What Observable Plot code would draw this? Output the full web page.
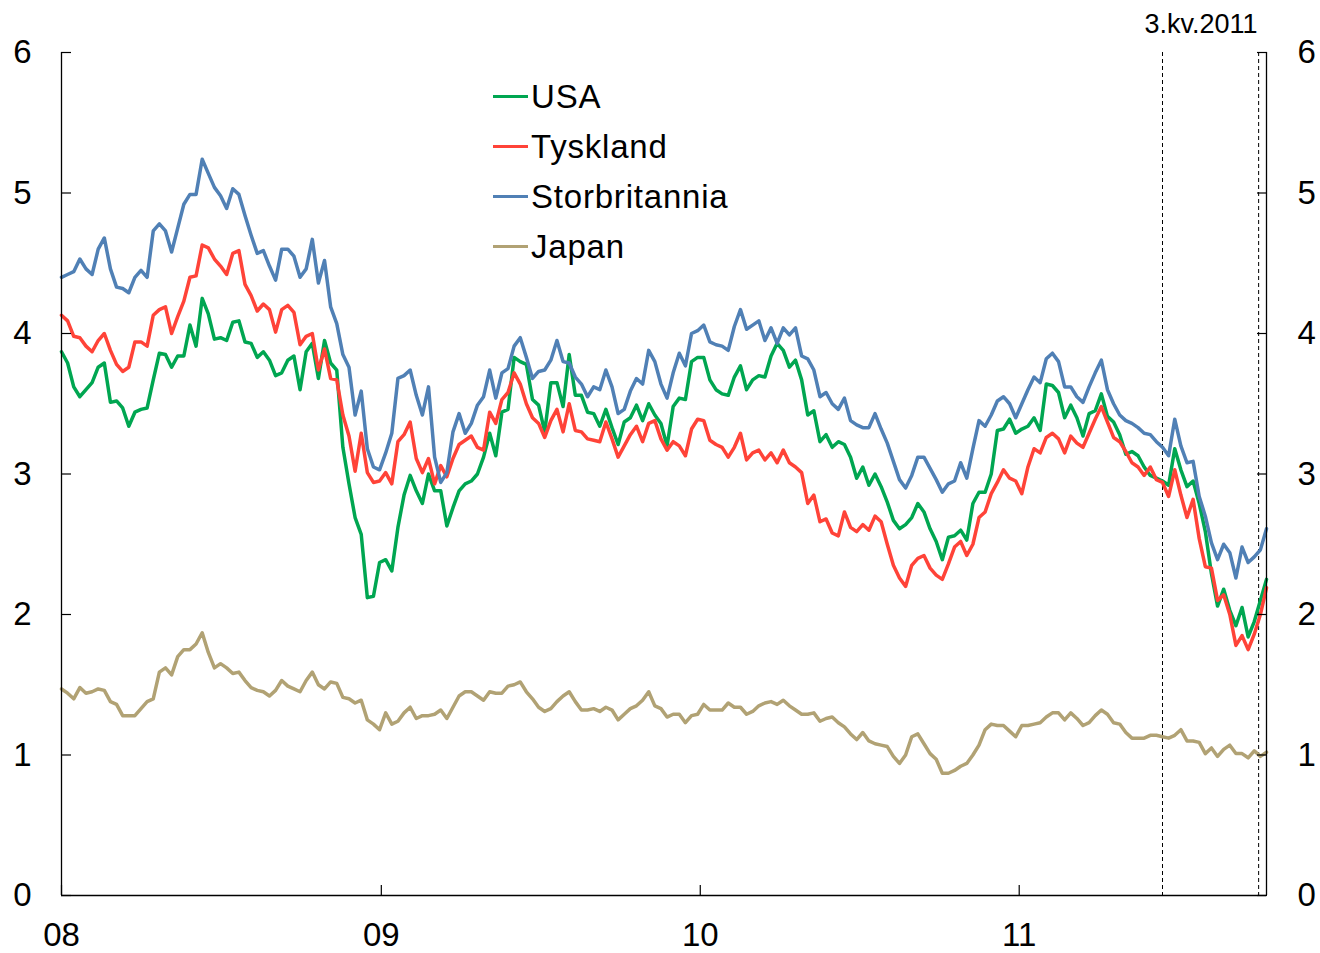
<!DOCTYPE html>
<html>
<head>
<meta charset="utf-8">
<script src="https://cdn.jsdelivr.net/npm/d3@7"></script>
<script src="https://cdn.jsdelivr.net/npm/@observablehq/plot@0.6"></script>
<style>
  html, body { margin: 0; padding: 0; background: #fff; }
  body { font-family: "Liberation Sans", Arial, sans-serif; }
  #wrap { position: relative; width: 1320px; height: 953px; }
  #legend { position: absolute; left: 493px; top: 71px; }
  .row { display: flex; align-items: center; height: 50px; }
  .swatch { display: inline-block; width: 35px; height: 3px; }
  .lab { font-size: 33px; line-height: 33px; color: #000; margin-left: 3px; letter-spacing: 0.8px; }
</style>
</head>
<body>
<div id="wrap"><div id="chart"></div><div id="legend"></div></div>
<script>
// ---- Data (weekly observations, first week starting 2008-01-01) ----
const startDate = "2008-01-01";
const stepDays = 7;

const usa = [
  3.87,3.79,3.62,3.55,3.60,3.65,3.76,3.79,3.51,3.52,3.47,3.34,3.44,3.46,3.47,3.67,3.86,3.85,3.76,3.84,
  3.84,4.06,3.91,4.25,4.14,3.96,3.97,3.95,4.08,4.09,3.94,3.93,3.83,3.87,3.81,3.70,3.72,3.81,3.84,3.60,
  3.87,3.93,3.68,3.95,3.79,3.74,3.19,2.93,2.69,2.57,2.12,2.13,2.37,2.39,
  2.31,2.62,2.85,2.99,2.88,2.79,3.00,2.88,2.88,2.63,2.76,2.88,2.93,2.95,3.00,3.12,3.29,3.13,3.44,3.46,
  3.83,3.80,3.78,3.53,3.49,3.30,3.65,3.65,3.48,3.85,3.56,3.56,3.44,3.43,3.34,3.46,3.33,3.21,3.37,3.40,
  3.49,3.38,3.50,3.42,3.36,3.20,3.48,3.54,3.53,3.80,3.83,3.83,3.67,
  3.60,3.57,3.56,3.69,3.77,3.60,3.67,3.70,3.69,3.84,3.93,3.88,3.76,3.81,3.67,3.42,3.45,3.23,3.28,3.19,
  3.23,3.21,3.12,2.97,3.05,2.92,3.00,2.91,2.80,2.67,2.61,2.64,2.69,2.79,2.73,2.61,2.52,2.39,2.55,2.56,
  2.60,2.53,2.79,2.87,2.87,3.00,3.31,3.32,3.39,3.29,3.32,3.34,
  3.40,3.31,3.64,3.63,3.58,3.40,3.49,3.40,3.27,3.43,3.45,3.57,3.41,3.37,3.28,3.14,3.16,3.13,3.05,2.99,
  2.97,2.95,2.92,3.18,3.03,2.91,2.95,2.79,2.59,2.29,2.06,2.18,2.03,1.92,2.05,1.84,1.95,2.10,2.25
];

const tyskland = [
  4.13,4.09,3.98,3.97,3.91,3.87,3.95,4.00,3.88,3.78,3.73,3.76,3.94,3.94,3.91,4.13,4.17,4.19,4.00,4.12,
  4.23,4.40,4.41,4.63,4.61,4.53,4.48,4.42,4.57,4.59,4.35,4.27,4.16,4.21,4.17,4.01,4.17,4.20,4.15,3.92,
  3.98,4.00,3.74,3.89,3.68,3.67,3.42,3.27,3.02,3.29,3.01,2.94,2.95,3.01,
  2.93,3.23,3.28,3.37,3.11,3.01,3.11,2.93,3.06,2.98,3.11,3.21,3.24,3.27,3.19,3.17,3.44,3.36,3.53,3.58,
  3.72,3.64,3.50,3.40,3.36,3.26,3.38,3.46,3.30,3.50,3.31,3.30,3.25,3.24,3.23,3.37,3.25,3.12,3.20,3.28,
  3.34,3.23,3.36,3.38,3.25,3.17,3.23,3.20,3.13,3.32,3.39,3.38,3.24,
  3.21,3.19,3.12,3.19,3.29,3.10,3.15,3.17,3.10,3.15,3.08,3.17,3.08,3.05,3.01,2.79,2.85,2.66,2.68,2.58,
  2.56,2.73,2.62,2.59,2.64,2.60,2.70,2.66,2.50,2.35,2.26,2.20,2.35,2.40,2.42,2.33,2.28,2.25,2.36,2.48,
  2.52,2.42,2.50,2.69,2.73,2.86,2.94,3.03,2.97,2.95,2.86,3.05,
  3.18,3.15,3.26,3.29,3.25,3.15,3.27,3.22,3.19,3.29,3.39,3.48,3.37,3.26,3.23,3.16,3.08,3.05,2.99,3.05,
  2.96,2.94,2.84,3.03,2.85,2.69,2.82,2.54,2.34,2.33,2.10,2.14,2.00,1.78,1.85,1.75,1.86,2.00,2.19
];

const storbritannia = [
  4.40,4.42,4.44,4.53,4.46,4.42,4.60,4.68,4.46,4.33,4.32,4.29,4.40,4.45,4.40,4.73,4.78,4.73,4.58,4.75,
  4.92,4.99,4.99,5.24,5.14,5.04,4.98,4.89,5.03,4.99,4.84,4.70,4.57,4.59,4.48,4.38,4.60,4.60,4.55,4.40,
  4.46,4.67,4.36,4.52,4.19,4.07,3.85,3.76,3.42,3.59,3.18,3.05,3.03,3.15,
  3.29,3.68,3.70,3.74,3.56,3.42,3.62,3.12,2.94,3.01,3.30,3.43,3.29,3.36,3.49,3.55,3.74,3.54,3.72,3.75,
  3.91,3.97,3.83,3.68,3.73,3.74,3.81,3.95,3.80,3.79,3.69,3.64,3.55,3.62,3.60,3.74,3.62,3.43,3.46,3.59,
  3.68,3.64,3.88,3.80,3.64,3.54,3.72,3.86,3.77,4.00,4.02,4.06,3.94,
  3.92,3.91,3.88,4.05,4.17,4.03,4.06,4.09,3.95,4.04,3.93,4.04,3.99,4.04,3.84,3.82,3.74,3.55,3.58,3.50,
  3.46,3.54,3.38,3.35,3.33,3.33,3.43,3.32,3.22,3.09,2.96,2.90,2.99,3.12,3.12,3.04,2.96,2.87,2.93,2.95,
  3.08,2.97,3.18,3.38,3.34,3.42,3.52,3.55,3.50,3.40,3.50,3.60,
  3.69,3.65,3.82,3.86,3.80,3.62,3.62,3.55,3.51,3.62,3.72,3.81,3.60,3.50,3.42,3.38,3.36,3.33,3.29,3.28,
  3.23,3.19,3.13,3.39,3.20,3.08,3.09,2.84,2.70,2.51,2.39,2.50,2.44,2.26,2.48,2.37,2.41,2.46,2.61
];

const japan = [
  1.47,1.44,1.40,1.48,1.44,1.45,1.47,1.46,1.38,1.36,1.28,1.28,1.28,1.33,1.38,1.40,1.59,1.62,1.57,1.70,
  1.75,1.75,1.79,1.87,1.73,1.62,1.65,1.62,1.58,1.59,1.53,1.48,1.46,1.45,1.42,1.46,1.53,1.49,1.47,1.45,
  1.53,1.59,1.50,1.47,1.52,1.51,1.41,1.40,1.37,1.39,1.25,1.22,1.18,1.30,1.22,1.24,1.30,1.34,1.26,1.28,
  1.28,1.29,1.32,1.26,1.34,1.42,1.45,1.45,1.42,1.39,1.45,1.44,1.44,1.49,1.50,1.52,1.45,1.40,1.34,1.31,
  1.33,1.38,1.42,1.45,1.38,1.32,1.32,1.33,1.31,1.34,1.32,1.25,1.29,1.33,1.35,1.39,1.45,1.35,1.33,1.27,
  1.29,1.29,1.23,1.28,1.29,1.36,1.32,1.32,1.32,1.37,1.34,1.34,1.29,1.31,1.35,1.37,1.38,1.36,1.39,1.35,
  1.32,1.29,1.29,1.30,1.24,1.26,1.27,1.23,1.20,1.15,1.11,1.16,1.10,1.08,1.07,1.06,0.99,0.94,1.00,1.13,
  1.15,1.08,1.01,0.97,0.87,0.87,0.89,0.92,0.94,1.00,1.07,1.18,1.22,1.21,1.21,1.17,1.13,1.21,1.21,1.22,
  1.23,1.27,1.30,1.30,1.25,1.30,1.26,1.21,1.23,1.28,1.32,1.29,1.23,1.22,1.16,1.12,1.12,1.12,1.14,1.14,
  1.13,1.12,1.14,1.18,1.10,1.10,1.09,1.01,1.05,0.99,1.04,1.07,1.01,1.01,0.98,1.03,0.99,1.02
];

const seriesNames = ["USA", "Tyskland", "Storbritannia", "Japan"];
const seriesColors = ["#00A651", "#FF4338", "#5080B5", "#B1A274"];
const yTicks = [0, 1, 2, 3, 4, 5, 6];
const xTickDates = ["2008-01-01", "2009-01-01", "2010-01-01", "2011-01-01"];
const xTickLabels = ["08", "09", "10", "11"];
const markerDates = ["2011-06-14", "2011-10-02"];
const markerLabel = "3.kv.2011";
const markerLabelDate = "2011-07-28";

// ---- Build table ----
const t0 = new Date(startDate + "T00:00:00Z");
const allSeries = [usa, tyskland, storbritannia, japan];
const nMax = d3.max(allSeries, s => s.length);
const dates = d3.range(nMax).map(i => d3.utcDay.offset(t0, stepDays * i));
const tables = allSeries.map((vals, s) =>
  vals.map((v, i) => ({date: dates[i], value: v, series: seriesNames[s]})));
const xEnd = dates[nMax - 1];
const parse = s => new Date(s + "T00:00:00Z");
const xTicks = xTickDates.map(parse);
const labelByTime = new Map(xTicks.map((d, i) => [+d, xTickLabels[i]]));
const yFormat = d => String(d);

const FONT = "'Liberation Sans', Arial, sans-serif";

const lineMarks = tables.map((tab, s) =>
  Plot.lineY(tab, {x: "date", y: "value", stroke: seriesColors[s], strokeWidth: 3.5,
                   strokeLinejoin: "round", strokeLinecap: "round"}));

const chart = Plot.plot({
  width: 1320,
  height: 953,
  marginLeft: 61,
  marginRight: 54,
  marginTop: 52,
  marginBottom: 58,
  style: {fontFamily: FONT, fontSize: "33px", color: "#000", background: "#fff", overflow: "visible"},
  x: {type: "utc", domain: [t0, xEnd], label: null},
  y: {domain: [0, 6], label: null},
  marks: [
    Plot.ruleX(markerDates.map(parse), {stroke: "#000", strokeWidth: 1, strokeDasharray: "4,3"}),
    ...lineMarks,
    Plot.ruleX([t0, xEnd], {stroke: "#000", strokeWidth: 1.3}),
    Plot.ruleY([0], {stroke: "#000", strokeWidth: 1.3}),
    // inward ticks
    Plot.axisY(yTicks, {anchor: "left", tickSize: 10, dx: 10, fill: "none", label: null, strokeWidth: 1.2}),
    Plot.axisY(yTicks, {anchor: "right", tickSize: 10, dx: -10, fill: "none", label: null, strokeWidth: 1.2}),
    Plot.axisX(xTicks, {anchor: "bottom", tickSize: 10, dy: -10, fill: "none", label: null, strokeWidth: 1.2}),
    // labels
    Plot.axisY(yTicks, {anchor: "left", tickSize: 0, tickPadding: 30, label: null, fontSize: 33,
                        tickFormat: yFormat}),
    Plot.axisY(yTicks, {anchor: "right", tickSize: 0, tickPadding: 31, label: null, fontSize: 33,
                        tickFormat: yFormat}),
    Plot.axisX(xTicks, {anchor: "bottom", tickSize: 0, tickPadding: 27, label: null, fontSize: 33,
                        tickFormat: d => labelByTime.get(+d)}),
    Plot.text([{date: parse(markerLabelDate), value: 6, label: markerLabel}],
              {x: "date", y: "value", text: "label", dy: -20, lineAnchor: "bottom",
               textAnchor: "middle", fontSize: 27, fill: "#000"})
  ]
});
document.getElementById("chart").appendChild(chart);

// ---- Legend (inside plot area) ----
const legend = document.getElementById("legend");
seriesNames.forEach((name, i) => {
  const row = document.createElement("div");
  row.className = "row";
  const sw = document.createElement("span");
  sw.className = "swatch";
  sw.style.background = seriesColors[i];
  const lab = document.createElement("span");
  lab.className = "lab";
  lab.textContent = name;
  row.appendChild(sw);
  row.appendChild(lab);
  legend.appendChild(row);
});
</script>
</body>
</html>
